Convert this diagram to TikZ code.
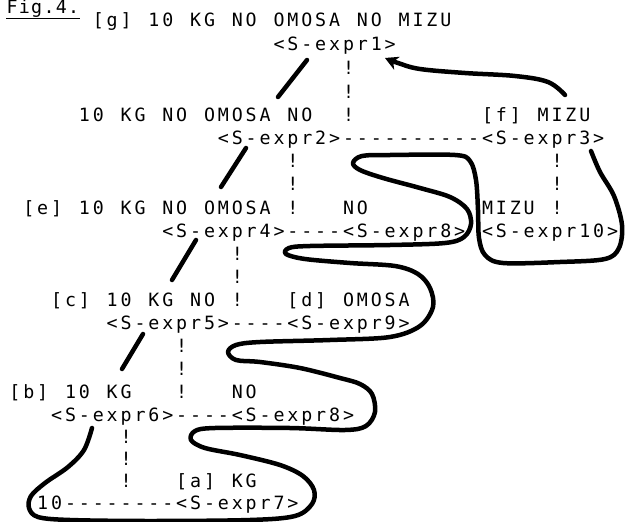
\documentclass[tikz,border=0pt]{standalone}
\usepackage{fontspec}
\newfontfamily\dmono{DejaVu Sans Mono}
\usetikzlibrary{arrows.meta}
\newlength\cw \setlength\cw{13.9pt}
\makeatletter
\newcommand\gridtxt[1]{\@tfor\gch:=#1\do{\makebox[\cw]{\gch}}}
\makeatother
\tikzset{
  txt/.style={anchor=base west, inner sep=0pt, outer sep=0pt, font={\dmono\fontsize{18.3}{20}\selectfont}},
  pen/.style={line width=4.5pt, line cap=round, line join=round},
}
\newcommand\gnode[4]{\node[txt] (#1) at ({8+13.9*#2},#3) {\gridtxt{#4}};}
\begin{document}
\begin{tikzpicture}[x=1pt,y=-1pt]
\useasboundingbox (0,0) rectangle (627,522);
\fill[white] (0,0) rectangle (627,522);
% caption
\node[txt] (fig) at (6,13.5) {\setlength\cw{12.3pt}\gridtxt{Fig.4.}};
\draw[line width=1.6pt] ([yshift=-1pt]fig.south west) -- ([yshift=-1pt]fig.south east);
% text grid
\gnode{g}{6}{27}{[g]~10~KG~NO~OMOSA~NO~MIZU}
\gnode{s1}{19}{50}{<S-expr1>}
\gnode{v1a}{24}{74}{!}
\gnode{v1b}{24}{98}{!}
\gnode{p2}{5}{121}{10~KG~NO~OMOSA~NO}
\gnode{v1c}{24}{121}{!}
\gnode{f}{34}{121}{[f]~MIZU}
\gnode{s2}{15}{144}{<S-expr2>}
\gnode{h23}{24}{144}{----------}
\gnode{s3}{34}{144}{<S-expr3>}
\gnode{v2a}{20}{167}{!}
\gnode{v3a}{39}{167}{!}
\gnode{v2b}{20}{190}{!}
\gnode{v3b}{39}{190}{!}
\gnode{e}{1}{214}{[e]~10~KG~NO~OMOSA}
\gnode{v2c}{20}{214}{!}
\gnode{no8}{24}{214}{NO}
\gnode{mizu}{34}{214}{MIZU}
\gnode{v3c}{39}{214}{!}
\gnode{s4}{11}{237}{<S-expr4>}
\gnode{h48}{20}{237}{----}
\gnode{s8a}{24}{237}{<S-expr8>}
\gnode{s10}{34}{237}{<S-expr10>}
\gnode{v4a}{16}{260}{!}
\gnode{v4b}{16}{283}{!}
\gnode{c}{3}{306}{[c]~10~KG~NO}
\gnode{v4c}{16}{306}{!}
\gnode{d}{20}{306}{[d]~OMOSA}
\gnode{s5}{7}{329}{<S-expr5>}
\gnode{h59}{16}{329}{----}
\gnode{s9}{20}{329}{<S-expr9>}
\gnode{v5a}{12}{352}{!}
\gnode{v5b}{12}{375}{!}
\gnode{b}{0}{398}{[b]~10~KG}
\gnode{v5c}{12}{398}{!}
\gnode{no8b}{16}{398}{NO}
\gnode{s6}{3}{421}{<S-expr6>}
\gnode{h68}{12}{421}{----}
\gnode{s8b}{16}{421}{<S-expr8>}
\gnode{v6a}{8}{443}{!}
\gnode{v6b}{8}{465}{!}
\gnode{v6c}{8}{487}{!}
\gnode{a}{12}{487}{[a]~KG}
\gnode{ten}{2}{509}{10}
\gnode{h7}{4}{509}{--------}
\gnode{s7}{12}{509}{<S-expr7>}
% tree strokes
\coordinate (t1a) at (307,60);  \coordinate (t1b) at (278,97);
\coordinate (t2a) at (246,148); \coordinate (t2b) at (221,187);
\coordinate (t3a) at (196,240); \coordinate (t3b) at (172,280);
\coordinate (t4a) at (143,334); \coordinate (t4b) at (122,369);
\draw[pen] (t1a) -- (t1b);
\draw[pen] (t2a) -- (t2b);
\draw[pen] (t3a) -- (t3b);
\draw[pen] (t4a) -- (t4b);
% the long winding stroke
\draw[pen] plot[smooth, tension=0.55] coordinates {
 (92,428) (84,450) (68,467) (45,483) (31,496) (29,508) (38,517) (70,520)
 (150,521) (250,520) (295,516) (312,504) (314,490) (303,476) (280,465)
 (240,455) (205,448) (191,440) (195,431) (215,428) (290,428) (345,430)
 (366,426) (375,412) (372,394) (360,384) (340,378) (300,368) (260,362)
 (236,360) (228,352) (236,345) (260,342) (330,340) (390,337) (420,326)
 (433,307) (430,288) (418,274) (395,266) (350,263) (305,259) (286,254)
 (289,248) (310,246) (390,245) (445,243) (464,237) (471,224) (467,209)
 (450,197) (420,188) (383,178) (360,170) (353,163) (362,156) (390,155)
 (455,155) (470,161) (476,180) (478,210) (479,238) (485,255) (503,263)
 (560,262) (605,259) (619,248) (622,225) (614,196) (600,172) (591,151)};
% arrow from S-expr3 branch back to S-expr1
\coordinate (aS) at (565,95);
\coordinate (aE) at (385,58);
\draw[pen, -{Stealth[length=13pt,width=14pt,inset=4pt]}] plot[smooth, tension=0.6] coordinates {
 (aS) (548,82) (515,76) (465,73) (420,69) (398,63) (aE)};
\end{tikzpicture}
\end{document}
